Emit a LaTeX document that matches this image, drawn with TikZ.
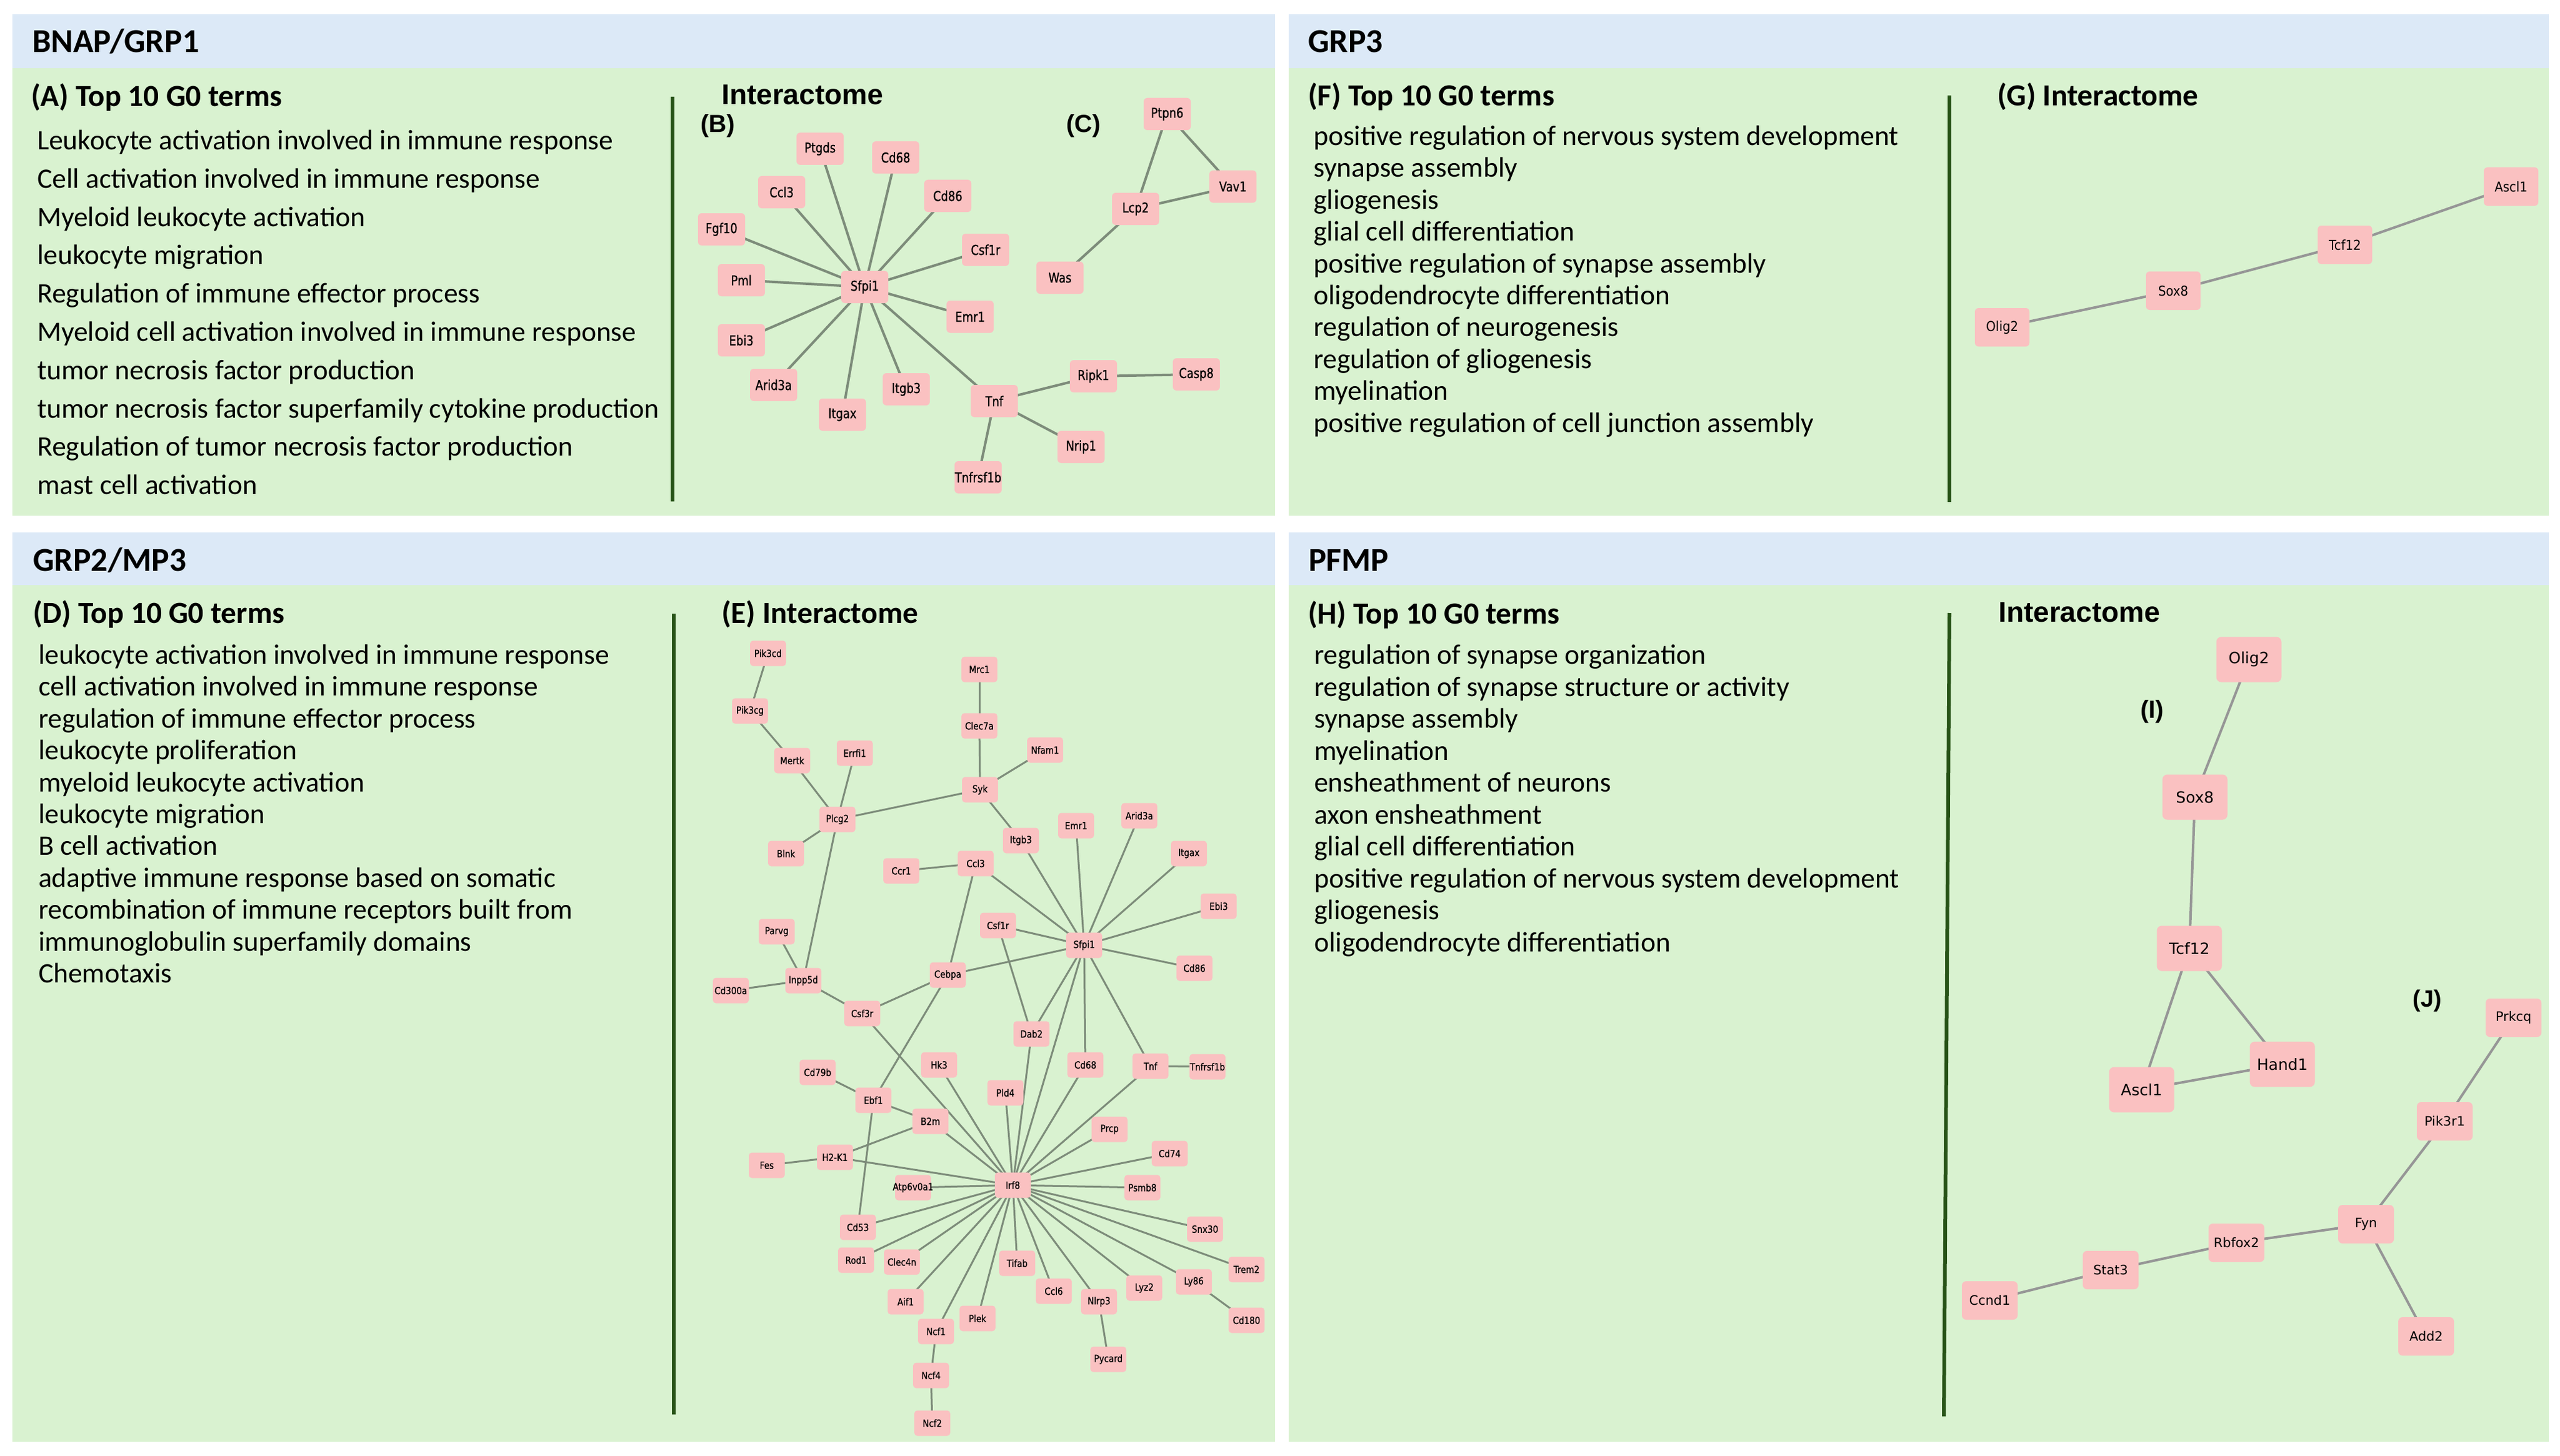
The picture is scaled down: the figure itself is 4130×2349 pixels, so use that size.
\documentclass[tikz,border=0pt]{standalone}
\usepackage{fontspec}
\setmainfont{Carlito}
\newfontfamily\arialf{Liberation Sans}
\newfontfamily\gfB[FakeStretch=0.82,FakeBold=0.6]{DejaVu Sans}
\newfontfamily\gfE[FakeStretch=0.85,FakeBold=0.6]{DejaVu Sans}
\newfontfamily\gfG[FakeStretch=0.9]{DejaVu Sans}
\newfontfamily\gfI{DejaVu Sans}
\definecolor{headc}{HTML}{DCE9F7}
\definecolor{bodyc}{HTML}{D9F2D0}
\definecolor{divc}{HTML}{275317}
\definecolor{pinkc}{RGB}{250,193,193}
\definecolor{edgec}{RGB}{125,140,122}
\definecolor{edgeg}{RGB}{150,150,150}
\pgfdeclarelayer{bg}
\pgfdeclarelayer{edges}
\pgfsetlayers{bg,edges,main}
\newcommand{\gl}[1]{\makebox[0pt][c]{#1}}
\tikzset{
  hdr/.style={anchor=west, inner sep=0pt, font=\bfseries\fontsize{54}{60}\selectfont, text height=36pt, text depth=2pt},
  sub/.style={anchor=west, inner sep=0pt, font=\bfseries\fontsize{49.5}{56}\selectfont, text height=35pt, text depth=10pt},
  txt/.style={anchor=west, inner sep=0pt, font=\fontsize{45.5}{52}\selectfont, text height=33pt, text depth=10pt},
  arl/.style={anchor=west, inner sep=0pt, font=\arialf\bfseries\fontsize{46}{50}\selectfont, text height=33pt, text depth=8pt},
  arlc/.style={inner sep=0pt, font=\arialf\bfseries\fontsize{40}{46}\selectfont},
  divline/.style={draw=divc, line width=6pt},
  gene/.style={fill=pinkc, inner sep=0pt, text=black},
  gB/.style={gene, rounded corners=6pt, minimum width=76pt, minimum height=52pt, font=\gfB\fontsize{22}{22}\selectfont},
  gE/.style={gene, rounded corners=5pt, minimum width=58pt, minimum height=41pt, font=\gfE\fontsize{16}{16}\selectfont},
  gG/.style={gene, rounded corners=6pt, minimum width=88pt, minimum height=62pt, font=\gfG\fontsize{22}{22}\selectfont},
  gI/.style={gene, rounded corners=8pt, minimum width=105pt, minimum height=73pt, font=\gfI\fontsize{25}{25}\selectfont},
  gJ/.style={gene, rounded corners=7pt, minimum width=90pt, minimum height=62pt, font=\gfI\fontsize{21}{21}\selectfont},
  edgeB/.style={draw=edgec, line width=4pt},
  edgeE/.style={draw=edgec, line width=3pt},
  edgeG/.style={draw=edgeg, line width=4pt},
}
\begin{document}
\begin{tikzpicture}[x=1pt,y=-1pt]
\useasboundingbox (0,0) rectangle (4130,2349);
\begin{pgfonlayer}{bg}
\fill[white] (0,0) rectangle (4130,2349);
\fill[bodyc] (20,23) rectangle (2057,832);
\fill[headc] (20,23) rectangle (2057,110);
\fill[bodyc] (2079,23) rectangle (4112,832);
\fill[headc] (2079,23) rectangle (4112,110);
\fill[bodyc] (20,859) rectangle (2057,2326);
\fill[headc] (20,859) rectangle (2057,944);
\fill[bodyc] (2079,859) rectangle (4112,2326);
\fill[headc] (2079,859) rectangle (4112,944);
\end{pgfonlayer}

% headers
\node[hdr] (hA) at (52,68) {BNAP/GRP1};
\node[hdr] (hF) at (2110,68) {GRP3};
\node[hdr] (hD) at (53,904) {GRP2/MP3};
\node[hdr] (hH) at (2111,904) {PFMP};

% sub headers
\node[sub] (sA) at (50,159) {(A) Top 10 G0 terms};
\node[sub] (sF) at (2110,158) {(F) Top 10 G0 terms};
\node[sub] (sG) at (3222,158) {(G) Interactome};
\node[sub] (sD) at (53,993) {(D) Top 10 G0 terms};
\node[sub] (sE) at (1164,993) {(E) Interactome};
\node[sub] (sH) at (2110,994) {(H) Top 10 G0 terms};
\node[arl] (sB) at (1164,156) {Interactome};
\node[arl] (sI) at (3224,991) {Interactome};
\node[arlc] (lB) at (1158,203) {(B)};
\node[arlc] (lC) at (1748,203) {(C)};
\node[arlc] (lI) at (3472,1148) {(I)};
\node[arlc, font=\arialf\bfseries\fontsize{38}{44}\selectfont] (lJ) at (3916,1615) {(J)};

% dividers
\draw[divline] (1085,156) -- (1085,809);
\draw[divline] (3145,154) -- (3145,810);
\draw[divline] (1087,990) -- (1087,2282);
\draw[divline] (3145,989) -- (3136,2285);

% text lists
\foreach \t [count=\i from 0] in {Leukocyte activation involved in immune response,Cell activation involved in immune response,Myeloid leukocyte activation,leukocyte migration,Regulation of immune effector process,Myeloid cell activation involved in immune response,tumor necrosis factor production,tumor necrosis factor superfamily cytokine production,Regulation of tumor necrosis factor production,mast cell activation}
  \node[txt] (tA\i) at (60,{230+61.8*\i}) {\t};
\foreach \t [count=\i from 0] in {positive regulation of nervous system development,synapse assembly,gliogenesis,glial cell differentiation,positive regulation of synapse assembly,oligodendrocyte differentiation,regulation of neurogenesis,regulation of gliogenesis,myelination,positive regulation of cell junction assembly}
  \node[txt] (tF\i) at (2119,{223+51.4*\i}) {\t};
\foreach \t [count=\i from 0] in {leukocyte activation involved in immune response,cell activation involved in immune response,regulation of immune effector process,leukocyte proliferation,myeloid leukocyte activation,leukocyte migration,B cell activation,adaptive immune response based on somatic,recombination of immune receptors built from,immunoglobulin superfamily domains,Chemotaxis}
  \node[txt] (tD\i) at (62,{1060+51.4*\i}) {\t};
\foreach \t [count=\i from 0] in {regulation of synapse organization,regulation of synapse structure or activity,synapse assembly,myelination,ensheathment of neurons,axon ensheathment,glial cell differentiation,positive regulation of nervous system development,gliogenesis,oligodendrocyte differentiation}
  \node[txt] (tH\i) at (2120,{1060+51.5*\i}) {\t};

% panel B/C nodes
\foreach \n/\x/\y in {Ptgds/1323/240,Cd68/1445/254,Ccl3/1261/310,Cd86/1529/316,Fgf10/1164/370,Csf1r/1590/403,Pml/1196/452,Sfpi1/1395/463,Emr1/1565/511,Ebi3/1196/549,Arid3a/1248/621,Itgb3/1462/628,Itgax/1359/669,Tnf/1604/647,Ripk1/1764/607,Casp8/1930/604,Nrip1/1744/721,Tnfrsf1b/1578/770,Ptpn6/1883/184,Vav1/1989/301,Lcp2/1832/337,Was/1710/448}
  \node[gB] (b\n) at (\x,\y) {\gl{\n}};

% panel E nodes
\foreach \n/\x/\y in {Pik3cd/1239/1054,Mrc1/1580/1080,Pik3cg/1210/1147,Clec7a/1580/1171,Nfam1/1686/1210,Mertk/1278/1227,Errfi1/1379/1215,Syk/1581/1274,Plcg2/1351/1322,Blnk/1268/1377,Itgb3/1647/1356,Emr1/1736/1332,Arid3a/1838/1316,Itgax/1918/1377,Ccr1/1454/1405,Ccl3/1574/1393,Ebi3/1966/1462,Parvg/1253/1503,Csf1r/1610/1493,Sfpi1/1749/1525,Cd86/1927/1562,Inpp5d/1296/1582,Cd300a/1179/1598,Cebpa/1529/1573,Csf3r/1391/1635,Dab2/1664/1668,Hk3/1515/1718,Cd68/1751/1718,Tnf/1856/1720,Tnfrsf1b/1948/1721,Cd79b/1319/1730,Pld4/1622/1763,Ebf1/1409/1775,B2m/1501/1809,Prcp/1790/1822,Cd74/1887/1861,Fes/1237/1880,Irf8/1634/1912,Atp6v0a1/1473/1916,Psmb8/1843/1916,Cd53/1384/1980,Snx30/1944/1983,Rod1/1381/2033,Clec4n/1455/2036,Tifab/1641/2038,Trem2/2011/2048,Ly86/1926/2068,Lyz2/1846/2078,Ccl6/1700/2083,Nlrp3/1773/2100,Aif1/1461/2100,Plek/1577/2127,Cd180/2011/2130,Ncf1/1510/2148,Pycard/1788/2193,Ncf4/1502/2219,Ncf2/1504/2296}
  \node[gE] (e\n) at (\x,\y) {\gl{\n}};
\node[gE] (eH2K1) at (1347,1867) {\gl{H2-K1}};

% panel G nodes
\foreach \n/\x/\y in {Olig2/3230/528,Sox8/3506/469,Tcf12/3783/395,Ascl1/4051/301}
  \node[gG] (g\n) at (\x,\y) {\gl{\n}};

% panel I nodes
\foreach \n/\x/\y in {Olig2/3628/1064,Sox8/3541/1286,Tcf12/3532/1530,Hand1/3682/1717,Ascl1/3455/1758}
  \node[gI] (i\n) at (\x,\y) {\gl{\n}};

% panel J nodes
\foreach \n/\x/\y in {Prkcq/4055/1642,Pik3r1/3944/1809,Fyn/3817/1975,Rbfox2/3608/2005,Stat3/3405/2049,Ccnd1/3210/2098,Add2/3914/2156}
  \node[gJ] (j\n) at (\x,\y) {\gl{\n}};

% edges
\begin{pgfonlayer}{edges}
\foreach \a/\b in {Sfpi1/Ptgds,Sfpi1/Cd68,Sfpi1/Ccl3,Sfpi1/Cd86,Sfpi1/Fgf10,Sfpi1/Csf1r,Sfpi1/Pml,Sfpi1/Emr1,Sfpi1/Ebi3,Sfpi1/Arid3a,Sfpi1/Itgax,Sfpi1/Itgb3,Sfpi1/Tnf,Tnf/Ripk1,Ripk1/Casp8,Tnf/Nrip1,Tnf/Tnfrsf1b,Ptpn6/Lcp2,Ptpn6/Vav1,Lcp2/Vav1,Lcp2/Was}
  \draw[edgeB] (b\a.center) -- (b\b.center);
\foreach \a/\b in {Pik3cd/Pik3cg,Pik3cg/Mertk,Mertk/Plcg2,Errfi1/Plcg2,Plcg2/Syk,Plcg2/Blnk,Plcg2/Inpp5d,Mrc1/Clec7a,Clec7a/Syk,Nfam1/Syk,Syk/Itgb3,Itgb3/Sfpi1,Emr1/Sfpi1,Arid3a/Sfpi1,Itgax/Sfpi1,Ebi3/Sfpi1,Ccr1/Ccl3,Ccl3/Sfpi1,Ccl3/Cebpa,Csf1r/Sfpi1,Sfpi1/Cd86,Sfpi1/Cebpa,Parvg/Inpp5d,Cd300a/Inpp5d,Inpp5d/Csf3r,Csf3r/Cebpa,Csf3r/Irf8,Cebpa/Ebf1,Csf1r/Dab2,Sfpi1/Dab2,Sfpi1/Irf8,Sfpi1/Cd68,Sfpi1/Tnf,Tnf/Tnfrsf1b,Dab2/Irf8,Hk3/Irf8,Pld4/Irf8,Cd68/Irf8,Tnf/Irf8,Prcp/Irf8,Cd74/Irf8,Cd79b/Ebf1,Ebf1/B2m,Ebf1/Cd53,B2m/H2K1,B2m/Irf8,H2K1/Fes,H2K1/Irf8,Atp6v0a1/Irf8,Irf8/Psmb8,Irf8/Cd53,Irf8/Rod1,Irf8/Clec4n,Irf8/Aif1,Irf8/Ncf1,Irf8/Plek,Irf8/Tifab,Irf8/Ccl6,Irf8/Nlrp3,Irf8/Lyz2,Irf8/Ly86,Irf8/Trem2,Irf8/Snx30,Ly86/Cd180,Nlrp3/Pycard,Ncf1/Ncf4,Ncf4/Ncf2}
  \draw[edgeE] (e\a.center) -- (e\b.center);
\foreach \a/\b in {Olig2/Sox8,Sox8/Tcf12,Tcf12/Ascl1}
  \draw[edgeG] (g\a.center) -- (g\b.center);
\foreach \a/\b in {Olig2/Sox8,Sox8/Tcf12,Tcf12/Ascl1,Tcf12/Hand1,Ascl1/Hand1}
  \draw[edgeG] (i\a.center) -- (i\b.center);
\foreach \a/\b in {Prkcq/Pik3r1,Pik3r1/Fyn,Fyn/Rbfox2,Rbfox2/Stat3,Stat3/Ccnd1,Fyn/Add2}
  \draw[edgeG] (j\a.center) -- (j\b.center);
\end{pgfonlayer}
\end{tikzpicture}
\end{document}
